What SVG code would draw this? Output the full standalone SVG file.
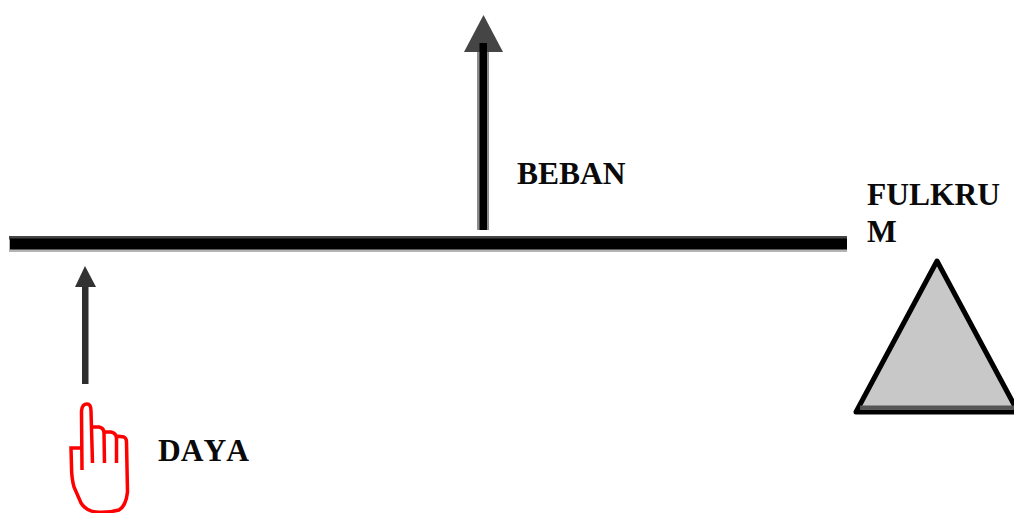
<svg xmlns="http://www.w3.org/2000/svg" width="1014" height="513" viewBox="0 0 1014 513">
<defs>
<style>
.label{font-family:"Liberation Serif","Times New Roman",serif;font-weight:bold;font-size:31.5px;font-kerning:none;fill:#0a0a0a}
</style>
<filter id="soft" x="-10%" y="-10%" width="120%" height="120%"><feGaussianBlur stdDeviation="0.7"/></filter>
</defs>
<rect width="1014" height="513" fill="#fff"/>
<g id="connectors" filter="url(#soft)">
<g id="load-arrow">
<rect x="477" y="43" width="12" height="187" fill="#8c8c8c"/>
<rect x="479.500" y="43" width="7.500" height="187" fill="#000"/>
<polygon points="483.500,15 503,52 464,52" fill="#444"/>
<rect x="479.500" y="43" width="7.500" height="9" fill="#000"/>
</g>
<g id="effort-arrow">
<rect x="82" y="284" width="6.500" height="100" fill="#2e2e2e"/>
<polygon points="85,266 96,287 75,287" fill="#333"/>
</g>
</g>
<g id="beam" filter="url(#soft)">
<rect x="9" y="236" width="838" height="16" fill="#b4b4b4"/>
<rect x="9" y="236" width="838" height="3.500" fill="#444"/>
<rect x="10" y="238.500" width="837" height="11" fill="#000"/>
</g>
<g id="fulkrum">
<polygon filter="url(#soft)" points="937,261 1018,412 856,412" fill="#c8c8c8" stroke="#000" stroke-width="5" stroke-linejoin="round"/>
<rect filter="url(#soft)" x="860" y="405.500" width="154" height="4" fill="#555"/>
<text class="label" x="867" y="205">FULKRU</text>
<text class="label" x="867" y="242">M</text>
</g>
<g id="beban">
<text class="label" x="517" y="184">BEBAN</text>
</g>
<g id="daya">
<path filter="url(#soft)" d="M82,470 L81.500,411 Q82,404 87,404 Q91,404 91,411 L92.500,463 M92,427 L99,427 Q104,428 104,433 L104.500,463 M104,432 L111,432 Q116,433 116.500,438 L116.500,463 M116.500,436 L124,437 Q126.500,438 126.500,442 L127.500,492 Q126,506 119,510 Q108,513 96,512 Q86,511 81,503 L74,487 Q71.500,478 71.500,466 L71,448 L81.500,448" fill="none" stroke="#f00" stroke-width="3.500"/>
<text class="label" x="158" y="461">DAYA</text>
</g>
</svg>
